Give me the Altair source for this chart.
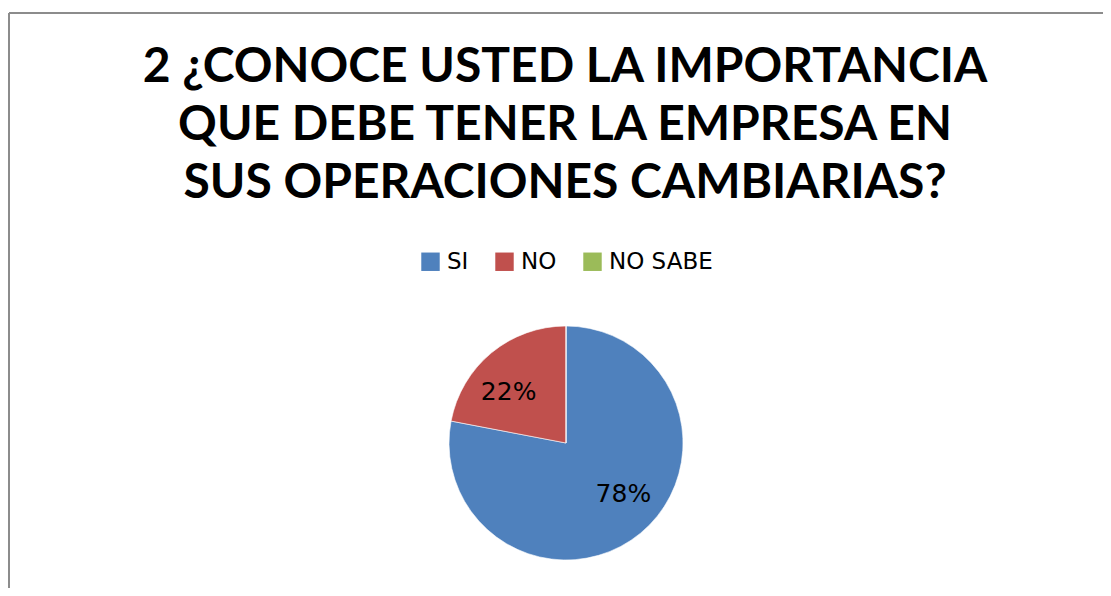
import altair as alt
import pandas as pd

categories = ["SI", "NO", "NO SABE"]
values = [78, 22, 0]
labels = ["78%", "22%", "0%"]
colors = ["#4F81BD", "#C0504D", "#9BBB59"]
title_lines = [
    "2 ¿CONOCE USTED LA IMPORTANCIA",
    "QUE DEBE TENER LA EMPRESA EN",
    "SUS OPERACIONES CAMBIARIAS?",
]

df = pd.DataFrame({
    "categoria": categories,
    "valor": values,
    "etiqueta": labels,
    "orden": list(range(len(categories))),
})

W, H = 1094, 575
CX, CY = 557, 430

base = alt.Chart(df).encode(
    theta=alt.Theta("valor:Q", stack=True),
    order=alt.Order("orden:Q", sort="ascending"),
)

pie = base.mark_arc(radius=117, stroke="white", strokeWidth=0.6).encode(
    color=alt.Color(
        "categoria:N",
        sort=categories,
        scale=alt.Scale(domain=categories, range=colors),
        legend=alt.Legend(
            title=None,
            orient="none",
            direction="horizontal",
            legendX=410,
            legendY=237,
            symbolType="square",
            symbolSize=340,
            symbolStrokeWidth=0,
            symbolOpacity=1,
            labelFont="DejaVu Sans",
            labelFontSize=23,
            labelColor="black",
            labelOffset=5,
            columnPadding=24,
        ),
    ),
    x=alt.value(CX),
    y=alt.value(CY),
)

text = base.mark_text(
    radius=77, thetaOffset=-0.15, font="DejaVu Sans", fontSize=25, color="black"
).encode(
    text="etiqueta:N",
    x=alt.value(CX),
    y=alt.value(CY),
).transform_filter("datum.valor > 0")

frame_df = pd.DataFrame({"k": [0]})
frame_top = alt.Chart(frame_df).mark_rule(color="#8c8c8c", strokeWidth=2).encode(
    x=alt.value(0), x2=alt.value(W + 20), y=alt.value(0)
)
frame_left = alt.Chart(frame_df).mark_rule(color="#8c8c8c", strokeWidth=2).encode(
    x=alt.value(0), y=alt.value(0), y2=alt.value(H + 20)
)

chart = alt.layer(frame_top, frame_left, pie, text).properties(
    width=W,
    height=H,
    padding={"left": 1, "top": 5, "right": 0, "bottom": 0},
    autosize=alt.AutoSizeParams(type="none"),
    background="white",
    title=alt.Title(
        text=title_lines,
        font="Lato",
        fontSize=48,
        fontWeight="bold",
        color="black",
        anchor="middle",
        lineHeight=58,
        offset=-196,
        dx=9,
    ),
).configure_view(stroke="transparent")

chart.save("out.html", embed_options={"renderer": "svg", "actions": False})
